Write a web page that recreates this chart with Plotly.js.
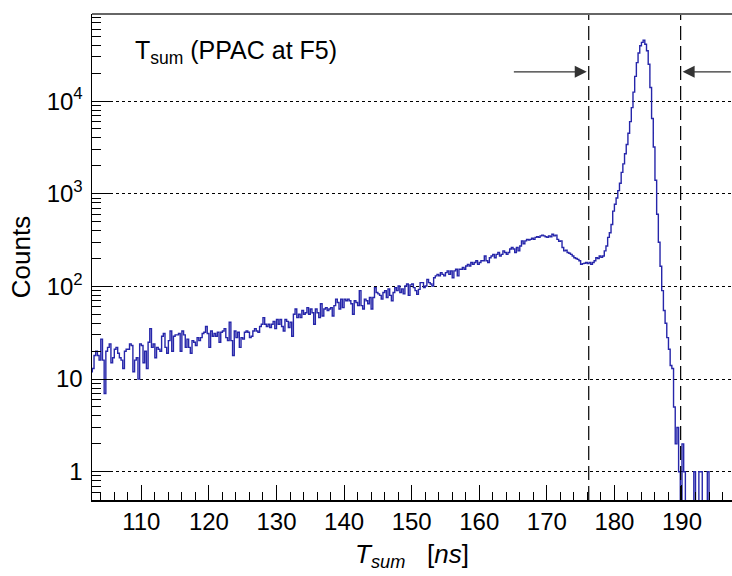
<!DOCTYPE html>
<html>
<head>
<meta charset="utf-8">
<script src="https://cdn.plot.ly/plotly-3.0.1.min.js"></script>
<style>html,body{margin:0;padding:0;background:#fff;}#plot{width:732px;height:576px;}</style>
</head>
<body>
<div id="plot"></div>
<script>
// Histogram: T_sum (PPAC at F5), bins of 0.25 ns starting at 102.5 ns
const binLow = 102.5;
const binWidth = 0.25;
const counts = [
  12,13,18,20,18,16,27,16,7,20,
  22,24,15,17,21,22,19,17,16,13,
  20,21,21,24,23,12,16,17,10,24,
  23,15,20,13,25,35,22,24,17,22,
  21,20,29,31,22,19,26,33,20,29,
  30,30,31,20,33,30,22,27,22,19,
  26,25,23,28,26,28,31,32,37,31,
  22,33,29,31,29,32,25,32,33,35,
  28,26,41,26,18,33,28,32,22,28,
  27,32,33,32,28,29,33,35,33,32,
  37,39,46,39,37,39,36,39,42,35,
  44,39,44,37,33,44,42,36,41,29,
  50,57,46,50,46,55,50,52,59,50,
  57,52,39,57,52,46,65,48,57,59,
  55,57,59,48,62,73,67,57,73,59,
  73,70,73,70,65,50,70,67,62,90,
  62,57,73,70,65,76,57,76,97,86,
  83,80,73,86,90,76,94,80,70,86,
  97,90,101,86,94,83,101,106,80,104,
  106,97,90,82,93,110,110,97,101,119,
  110,106,101,124,130,135,130,141,135,130,
  141,147,135,147,124,147,153,130,153,153,
  160,153,166,173,166,181,173,181,189,173,
  181,189,189,213,189,181,204,213,222,204,
  222,232,213,222,242,232,222,232,253,263,
  253,232,263,242,273,310,289,310,322,317,
  322,331,322,338,344,338,351,358,351,344,
  338,351,344,366,351,358,322,307,310,263,
  242,246,232,228,222,213,204,200,196,189,
  173,176,178,181,176,181,173,181,189,204,
  200,213,206,213,242,273,338,380,465,650,
  770,900,1080,1300,1700,2100,2700,3400,4500,6000,
  8500,12500,18500,26000,33000,39500,43000,45500,41000,35000,
  25000,14000,6500,3200,1400,600,300,165,90,55,
  40,28,21,14,13,5,2,3,1,0,
  2,1,0,0,0,0,0,1,0,0,
  1,1,0,0,0,1,0,0,0,0,
  0,0,0,0,0,0,0,0,0,0
];

// Selection window (dashed lines) and arrow annotations
const cutValues = [176.2, 189.8];
const arrowTails = [164.9, 197.45];
const arrowLevel = 2.07e4;

// Axis settings
const xRange = [102.7, 197.4];
const xTickValues = [110, 120, 130, 140, 150, 160, 170, 180, 190];
const yRangeLog = [-0.305, 4.94];
const yTickValues = [1, 10, 100, 1000, 10000];
const yTickText = ['1', '10', '10<sup>2</sup>', '10<sup>3</sup>', '10<sup>4</sup>'];

// step outline built from bin edges
const xs = [], ys = [];
const floorVal = 1e-3; // empty bins drawn below the visible range
for (let i = 0; i < counts.length; i++) {
  xs.push(binLow + i * binWidth);
  ys.push(counts[i] > 0 ? counts[i] : floorVal);
}
xs.push(binLow + counts.length * binWidth);
ys.push(ys[ys.length - 1]);

// minor tick positions for log axis
const yMinor = [];
for (let d = -1; d <= 5; d++) {
  for (let m = 2; m <= 9; m++) yMinor.push(m * Math.pow(10, d));
}

const font = 'Liberation Sans, Arial, Helvetica, sans-serif';

const trace = {
  x: xs, y: ys, type: 'scatter', mode: 'lines',
  line: {shape: 'hv', color: '#2626aa', width: 1.4},
  hoverinfo: 'skip'
};

const shapes = cutValues.map(c => ({
  type: 'line', xref: 'x', yref: 'paper', x0: c, x1: c, y0: 0, y1: 1,
  line: {color: '#000', width: 1.2, dash: '14px,6px'}
}));
shapes.push({type: 'line', xref: 'paper', yref: 'paper', x0: 0, x1: 1, y0: 1, y1: 1,
  line: {color: '#666', width: 2}});

const annotations = [
  {xref: 'paper', yref: 'paper', x: 0.064, y: 0.922, xanchor: 'left', yanchor: 'middle',
   text: 'T<sub>sum</sub> (PPAC at F5)', showarrow: false,
   font: {family: font, size: 25, color: '#000'}},
  {xref: 'x', yref: 'y', axref: 'x', ayref: 'y',
   x: cutValues[0], y: Math.log10(arrowLevel), ax: arrowTails[0], ay: Math.log10(arrowLevel),
   text: '', showarrow: true, arrowhead: 2, arrowsize: 2, arrowwidth: 1.2,
   arrowcolor: '#333', standoff: 2},
  {xref: 'x', yref: 'y', axref: 'x', ayref: 'y',
   x: cutValues[1], y: Math.log10(arrowLevel), ax: arrowTails[1], ay: Math.log10(arrowLevel),
   text: '', showarrow: true, arrowhead: 2, arrowsize: 2, arrowwidth: 1.2,
   arrowcolor: '#333', standoff: 2}
];

const layout = {
  width: 732, height: 576,
  margin: {l: 92, r: 0, t: 14, b: 76},
  paper_bgcolor: '#fff', plot_bgcolor: '#fff',
  showlegend: false,
  font: {family: font, size: 24, color: '#000'},
  xaxis: {
    range: xRange, type: 'linear',
    tickmode: 'array', tickvals: xTickValues,
    ticks: 'inside', ticklen: 15, tickwidth: 1, tickcolor: '#000',
    minor: {dtick: 2, tick0: 100, ticks: 'inside', ticklen: 8, tickcolor: '#000', showgrid: false},
    showline: true, linecolor: '#000', linewidth: 1.5,
    showgrid: false, zeroline: false,
    tickfont: {family: font, size: 24},
    title: {text: '<i>T<sub>sum</sub></i>   [<i>ns</i>]', font: {family: font, size: 26}, standoff: 10}
  },
  yaxis: {
    type: 'log', range: yRangeLog,
    tickmode: 'array', tickvals: yTickValues, ticktext: yTickText,
    ticks: 'inside', ticklen: 18, tickwidth: 1, tickcolor: '#000',
    minor: {tickmode: 'array', tickvals: yMinor, ticks: 'inside', ticklen: 9, tickcolor: '#000', showgrid: false},
    showline: true, linecolor: '#000', linewidth: 1.5,
    showgrid: true, gridcolor: '#000', griddash: 'dot', gridwidth: 1,
    zeroline: false,
    tickfont: {family: font, size: 24},
    ticklabelstandoff: 3,
    title: {text: 'Counts', font: {family: font, size: 26}, standoff: 8}
  },
  shapes: shapes,
  annotations: annotations
};

Plotly.newPlot('plot', [trace], layout, {staticPlot: true, displayModeBar: false});
</script>
</body>
</html>
